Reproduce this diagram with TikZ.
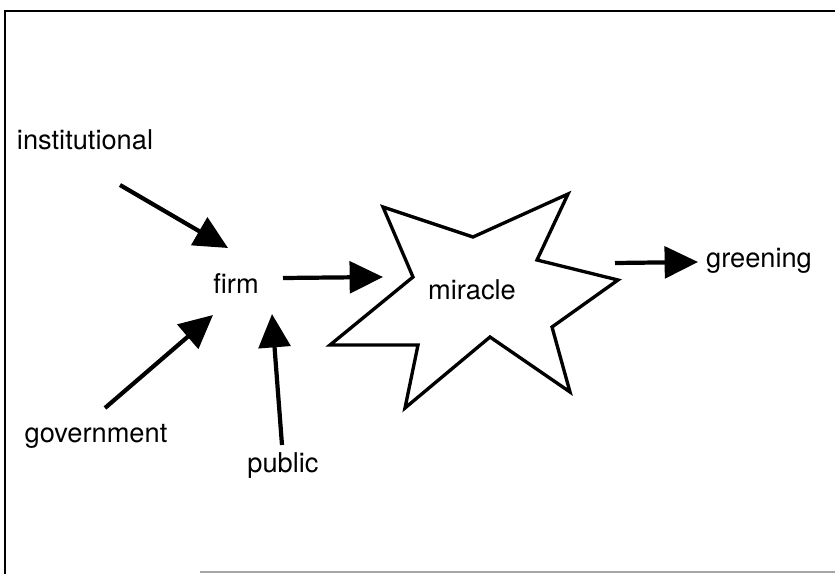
\documentclass[tikz,border=0pt]{standalone}
\usepackage{fontspec}
\setmainfont{TeX Gyre Heros}
\usetikzlibrary{arrows.meta}

\begin{document}
\begin{tikzpicture}[x=0.02cm,y=-0.02cm]

	\tikzstyle{word} = [font=\fontsize{15.5}{18}\selectfont, inner sep=0pt]
	\tikzstyle{push} = [line width=2.4pt, -{Triangle[length=19pt,width=18pt]}]

	\useasboundingbox (0,0) rectangle (835,574);

	% frame of the figure
	\draw[line width=1.4pt] (835,11) -- (5,11) -- (5,574);
	\draw[black!35, line width=0.8pt] (200,572) -- (835,572);

	% the star round miracle
	\draw[line width=1.9pt] (383,207) -- (473,237) -- (568,194) -- (537,260) -- (618,280)
		-- (552,327) -- (570,392) -- (490,337) -- (405,408) -- (418,345) -- (330,345) -- (413,277) -- cycle;

	\node[word] (inst) at (85,140) {institutional};
	\node[word] (firm) at (236,284) {firm};
	\node[word] (gov) at (96,436) {government};
	\node[word] (pub) at (283,466) {public};
	\node[word] (mir) at (472,290) {miracle};
	\node[word] (green) at (759,261) {greening};

	\coordinate (inst-out) at (120,185);
	\coordinate (firm-nw) at (228,248);
	\coordinate (gov-out) at (105,408);
	\coordinate (firm-sw) at (213,315);
	\coordinate (pub-out) at (282,445);
	\coordinate (firm-s) at (272,314);
	\coordinate (firm-e) at (283,278);
	\coordinate (mir-w) at (383,277);
	\coordinate (mir-e) at (615,263);
	\coordinate (green-w) at (698,262);

	\draw[push] (inst-out) -- (firm-nw);
	\draw[push] (gov-out) -- (firm-sw);
	\draw[push] (pub-out) -- (firm-s);
	\draw[push] (firm-e) -- (mir-w);
	\draw[push] (mir-e) -- (green-w);
\end{tikzpicture}
\end{document}
